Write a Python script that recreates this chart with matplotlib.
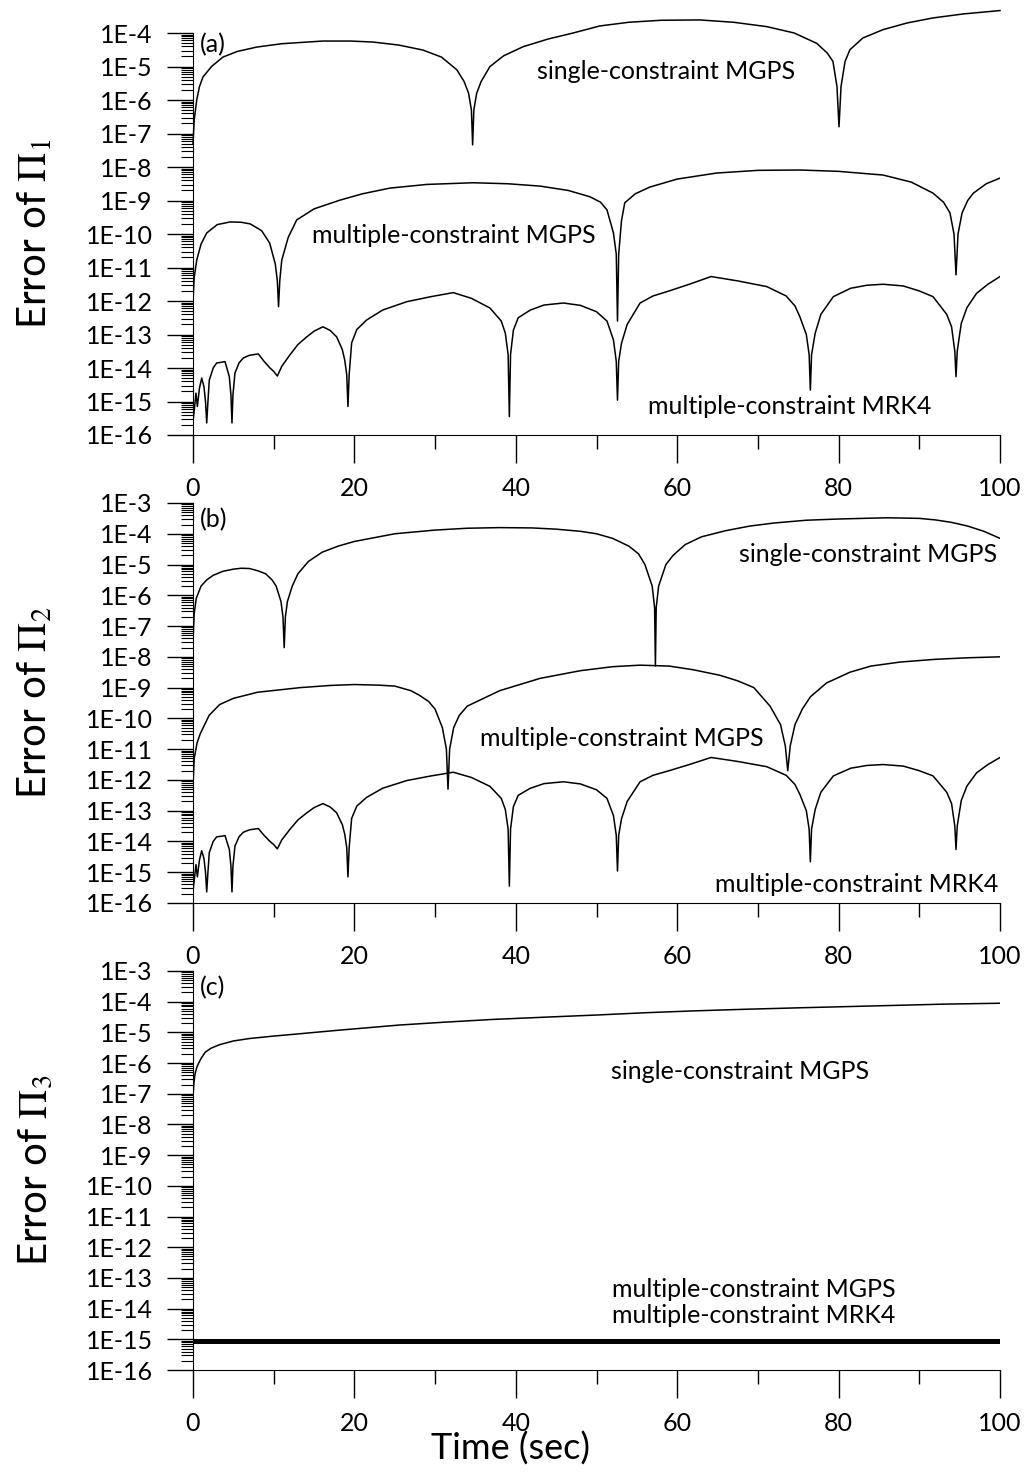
import numpy as np
import matplotlib
matplotlib.use("Agg")
import matplotlib.pyplot as plt
from matplotlib.ticker import FixedLocator, LogLocator, FuncFormatter, NullFormatter

plt.rcParams['font.family'] = ['Lato', 'DejaVu Sans']
plt.rcParams['mathtext.fontset'] = 'stix'

# ---- data (values stored as log10 of the error) ----
# panel (a)
a_single_t = [0, 0.15, 0.46, 0.8, 1.24, 2.3, 3.7, 5.5, 7.9, 11, 16.1, 19.5, 22.3, 25.5, 28.5, 30.8,
              32.7, 33.6, 34.15, 34.5, 34.65, 34.8, 35.15, 35.7, 36.8, 38.5, 40.9, 44, 47.1, 50.4,
              54, 58, 62.8, 67, 71.1, 74.5, 77.3, 78.6, 79.3, 79.8, 80.05, 80.3, 80.8, 81.4, 83,
              85.5, 88.5, 91.7, 95.5, 100]
a_single_log = [-7.3, -6.6, -6.0, -5.6, -5.31, -5.0, -4.72, -4.55, -4.42, -4.32, -4.24, -4.24, -4.27,
                -4.36, -4.51, -4.72, -5.1, -5.45, -5.8, -6.3, -7.34, -6.3, -5.8, -5.45, -5.0, -4.68,
                -4.41, -4.18, -4.0, -3.79, -3.68, -3.62, -3.61, -3.68, -3.81, -4.0, -4.31, -4.6,
                -4.85, -5.6, -6.8, -5.6, -4.85, -4.5, -4.15, -3.9, -3.7, -3.55, -3.43, -3.33]

a_multi_t = [0, 0.15, 0.46, 1.0, 1.7, 3, 4.6, 6, 7.1, 8.5, 9.5, 10.2, 10.45, 10.6, 10.75, 11.0, 11.8,
             12.85, 15, 18.2, 21, 24.4, 29, 34.7, 39, 43.0, 46.5, 49.2, 50.5, 51.3, 52.1, 52.45,
             52.6, 52.75, 53.1, 53.5, 54.8, 56.6, 60, 64.9, 70, 75.2, 80, 85.5, 89, 91.7, 93.0,
             93.8, 94.3, 94.55, 94.8, 95.3, 96.0, 96.7, 98.3, 100]
a_multi_log = [-12.0, -11.3, -10.78, -10.3, -9.97, -9.72, -9.64, -9.65, -9.7, -9.9, -10.27, -10.9,
               -11.4, -12.17, -11.4, -10.78, -10.1, -9.58, -9.25, -8.99, -8.8, -8.63, -8.52, -8.47,
               -8.5, -8.57, -8.7, -8.89, -9.05, -9.28, -9.97, -10.6, -12.6, -10.6, -9.6, -9.07,
               -8.8, -8.6, -8.36, -8.18, -8.1, -8.09, -8.13, -8.24, -8.45, -8.78, -9.05, -9.37,
               -10.0, -11.22, -10.0, -9.37, -9.0, -8.78, -8.5, -8.33]

# multiple-constraint MRK4 (same run in panels a and b)
rk4_t = [0, 0.12, 0.37, 0.54, 0.8, 1.08, 1.36, 1.55, 1.7, 1.85, 2.02, 2.5, 2.93, 3.5, 3.97,
         4.5, 4.7, 4.83, 4.95, 5.2, 5.7, 6.24, 7.0, 8.1, 8.8, 9.54, 10.0, 10.45, 11.0, 12.0,
         13.0, 14.1, 15.0, 16.1, 17.0, 17.8, 18.5, 18.8, 19.05, 19.2, 19.35, 19.66, 20.3, 21.5,
         23.5, 26.5, 29.5, 32.25, 34.5, 36.8, 38.2, 38.7, 39.05, 39.2, 39.35, 39.7, 40.3, 41.8,
         43.5, 45.9, 48.0, 50.0, 51.3, 52.1, 52.45, 52.6, 52.75, 53.1, 53.8, 55.4, 57.0, 59.0,
         61.5, 64.2, 67.5, 71.1, 73.5, 74.6, 75.2, 76.0, 76.35, 76.5, 76.65, 77.1, 77.8, 79.35,
         81.5, 83.5, 85.5, 88.0, 90.0, 91.7, 93.4, 94.0, 94.4, 94.55, 94.7, 95.2, 95.9, 97.1,
         98.5, 100]
rk4_log = [-15.6, -15.34, -14.75, -15.15, -14.6, -14.3, -14.56, -15.0, -15.64, -15.0, -14.36,
           -14.0, -13.85, -13.83, -13.81, -14.26, -14.8, -15.64, -14.8, -14.15, -13.85, -13.7,
           -13.62, -13.58, -13.8, -14.0, -14.1, -14.24, -13.95, -13.61, -13.3, -13.07, -12.9,
           -12.77, -12.88, -13.07, -13.45, -13.76, -14.2, -15.15, -14.2, -13.25, -12.85, -12.57,
           -12.27, -12.02, -11.87, -11.75, -11.92, -12.21, -12.6, -12.96, -13.6, -15.45, -13.6,
           -12.87, -12.5, -12.27, -12.12, -12.06, -12.13, -12.32, -12.6, -13.16, -13.8, -14.96,
           -13.8, -13.26, -12.7, -12.06, -11.85, -11.7, -11.5, -11.27, -11.4, -11.57, -11.85,
           -12.15, -12.47, -13.0, -13.6, -14.66, -13.6, -12.96, -12.4, -11.87, -11.62, -11.53,
           -11.5, -11.55, -11.7, -11.87, -12.4, -12.77, -13.5, -14.26, -13.5, -12.67, -12.2,
           -11.77, -11.5, -11.27]

# panel (b)
b_single_t = [0, 0.15, 0.4, 1.0, 1.7, 2.5, 3.7, 5.0, 6.0, 7.0, 8.0, 9.0, 9.8, 10.3, 10.9, 11.15,
              11.3, 11.45, 11.7, 12.3, 13.0, 14.3, 16.0, 18, 20.0, 25.0, 30.0, 34, 38.0, 42, 45.0,
              48, 50.0, 52, 54.0, 55.2, 56.0, 56.9, 57.2, 57.3, 57.4, 57.7, 58.6, 59.5, 61.0, 63,
              66.0, 69, 72.0, 76, 80.0, 86.0, 90, 92.0, 94, 96.0, 98, 100]
b_single_log = [-7.5, -6.6, -6.1, -5.7, -5.5, -5.35, -5.22, -5.15, -5.12, -5.13, -5.2, -5.3, -5.5,
                -5.7, -6.2, -6.7, -7.7, -6.7, -6.2, -5.7, -5.3, -4.9, -4.6, -4.4, -4.25, -4.0, -3.88,
                -3.82, -3.8, -3.81, -3.85, -3.92, -4.0, -4.15, -4.4, -4.65, -5.0, -5.7, -6.4, -8.3,
                -6.4, -5.7, -5.0, -4.7, -4.35, -4.1, -3.9, -3.75, -3.65, -3.56, -3.52, -3.48, -3.5,
                -3.55, -3.63, -3.75, -3.92, -4.15]

b_multi_t = [0, 0.15, 0.5, 0.9, 2, 3.3, 5, 8, 13.3, 17, 20, 23, 25, 27, 28.0, 29.2, 30.0, 30.9,
             31.4, 31.6, 31.8, 32.3, 33.0, 34, 35.6, 38, 43.0, 48, 52, 55.4, 59, 62, 65.3, 67.5,
             69.5, 71.5, 72.8, 73.4, 73.7, 74.0, 74.6, 75.5, 76.5, 78.5, 81.4, 84, 87.6, 92, 96, 100]
b_multi_log = [-12.2, -11.3, -10.8, -10.5, -9.9, -9.55, -9.35, -9.15, -9.0, -8.93, -8.9, -8.92,
               -8.95, -9.1, -9.24, -9.45, -9.7, -10.3, -11.0, -12.3, -11.0, -10.3, -9.9, -9.6,
               -9.4, -9.1, -8.7, -8.45, -8.32, -8.27, -8.3, -8.42, -8.6, -8.78, -9.0, -9.6, -10.2,
               -10.9, -11.7, -10.9, -10.2, -9.7, -9.3, -8.85, -8.5, -8.3, -8.17, -8.08, -8.03, -8.0]

# panel (c)
c_single_t = [0, 0.05, 0.1, 0.2, 0.3, 0.5, 0.7, 1.0, 1.5, 2.2, 3.3, 5, 7, 10, 13, 18, 25.6, 31,
              37, 44, 50.4, 56, 62, 68, 75, 81, 87, 93, 100]
c_single_log = [-7.1, -6.9, -6.7, -6.45, -6.3, -6.12, -6.0, -5.85, -5.65, -5.52, -5.4, -5.28, -5.2,
                -5.12, -5.05, -4.93, -4.76, -4.67, -4.58, -4.5, -4.43, -4.36, -4.3, -4.25, -4.2,
                -4.16, -4.12, -4.08, -4.05]
c_band_t = [0, 100]
c_band_lo = [6.8e-16, 6.8e-16]
c_band_hi = [1.02e-15, 1.02e-15]

labels = ['(a)', '(b)', '(c)']
ylabels = [r'Error of $\Pi_1$', r'Error of $\Pi_2$', r'Error of $\Pi_3$']

W, H = 1028, 1479
fig = plt.figure(figsize=(W / 100, H / 100), dpi=100)

# axes boxes in pixels: (top, bottom)
boxes = [(33, 435), (503, 903), (971, 1370)]
x0, x1 = 193, 1000
ytops = [1e-4, 1e-3, 1e-3]

axes = []
for (top, bot) in boxes:
    ax = fig.add_axes([x0 / W, 1 - bot / H, (x1 - x0) / W, (bot - top) / H])
    axes.append(ax)

FS = 18


def style(ax, ytop, ylabel):
    ax.set_yscale('log')
    ax.set_xlim(0, 100)
    ax.set_ylim(1e-16, ytop)
    ax.spines['top'].set_visible(False)
    ax.spines['right'].set_visible(False)
    ax.xaxis.set_major_locator(FixedLocator([0, 20, 40, 60, 80, 100]))
    ax.xaxis.set_minor_locator(FixedLocator([10, 30, 50, 70, 90]))
    ax.yaxis.set_major_locator(LogLocator(base=10, numticks=30))
    ax.yaxis.set_minor_locator(LogLocator(base=10, subs=np.arange(2, 10), numticks=30))
    ax.yaxis.set_minor_formatter(NullFormatter())
    ax.yaxis.set_major_formatter(FuncFormatter(lambda v, p: '1E-%d' % round(-np.log10(v))))
    ax.tick_params(axis='x', which='major', length=20, width=1, direction='out', pad=10, labelsize=FS)
    ax.tick_params(axis='x', which='minor', length=10, width=1, direction='out')
    ax.tick_params(axis='y', which='major', length=19, width=1, direction='out', pad=10, labelsize=FS)
    ax.tick_params(axis='y', which='minor', length=9, width=0.8, direction='out')
    ax.set_ylabel(ylabel, fontsize=29)
    ax.yaxis.set_label_coords(-0.172, 0.5)


lw = 1.1
ax = axes[0]
style(ax, ytops[0], ylabels[0])
ax.plot(a_single_t, 10 ** np.array(a_single_log), color='black', lw=lw, clip_on=False)
ax.plot(a_multi_t, 10 ** np.array(a_multi_log), color='black', lw=lw)
ax.plot(rk4_t, 10 ** np.array(rk4_log), color='black', lw=lw)
ax.text(0.9, 10 ** -4.36, labels[0], fontsize=FS, va='center')
ax.text(42.6, 10 ** -5.16, 'single-constraint MGPS', fontsize=FS, va='center')
ax.text(14.7, 10 ** -10.03, 'multiple-constraint MGPS', fontsize=FS, va='center')
ax.text(56.4, 10 ** -15.16, 'multiple-constraint MRK4', fontsize=FS, va='center')

ax = axes[1]
style(ax, ytops[1], ylabels[1])
ax.plot(b_single_t, 10 ** np.array(b_single_log), color='black', lw=lw)
ax.plot(b_multi_t, 10 ** np.array(b_multi_log), color='black', lw=lw)
ax.plot(rk4_t, 10 ** np.array(rk4_log), color='black', lw=lw)
ax.text(0.9, 10 ** -3.55, labels[1], fontsize=FS, va='center')
ax.text(99.6, 10 ** -4.69, 'single-constraint MGPS', fontsize=FS, va='center', ha='right')
ax.text(35.6, 10 ** -10.64, 'multiple-constraint MGPS', fontsize=FS, va='center')
ax.text(99.8, 10 ** -15.41, 'multiple-constraint MRK4', fontsize=FS, va='center', ha='right')

ax = axes[2]
style(ax, ytops[2], ylabels[2])
ax.plot(c_single_t, 10 ** np.array(c_single_log), color='black', lw=lw)
ax.fill_between(c_band_t, c_band_lo, c_band_hi, color='black', lw=0)
ax.text(0.9, 10 ** -3.55, labels[2], fontsize=FS, va='center')
ax.text(51.8, 10 ** -6.26, 'single-constraint MGPS', fontsize=FS, va='center')
ax.text(51.9, 10 ** -13.39, 'multiple-constraint MGPS', fontsize=FS, va='center')
ax.text(51.9, 10 ** -14.24, 'multiple-constraint MRK4', fontsize=FS, va='center')
ax.set_xlabel('Time (sec)', fontsize=26)
ax.xaxis.set_label_coords(0.394, -0.155)

fig.savefig('out.png', dpi=100)
